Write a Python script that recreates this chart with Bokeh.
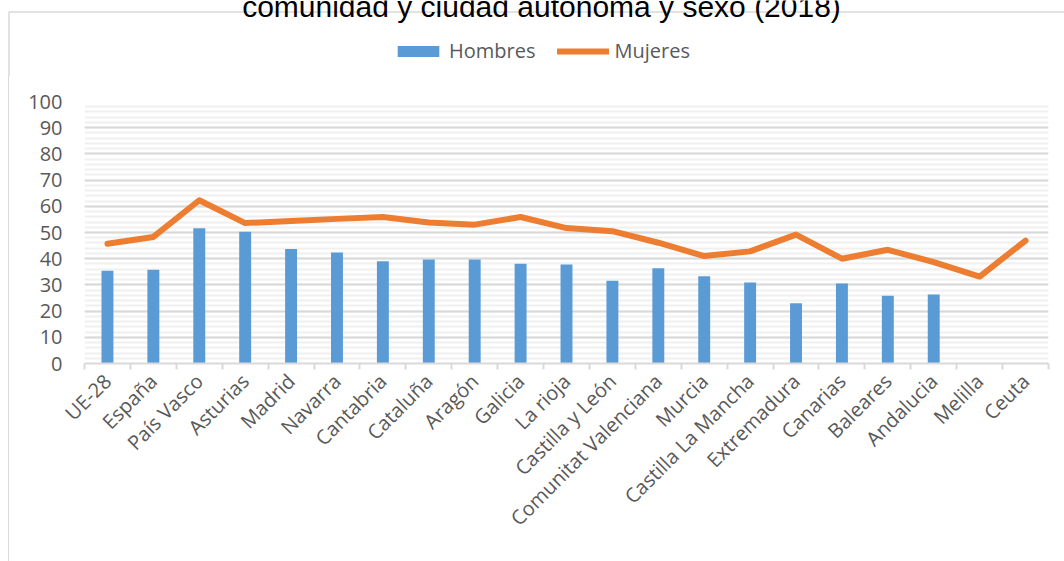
import math
from bokeh.plotting import figure
from bokeh.layouts import column, row
from bokeh.models import (Range1d, FixedTicker, SingleIntervalTicker, Legend, LegendItem,
                          Label, ColumnDataSource, Spacer)
from bokeh.embed import file_html
from bokeh.resources import INLINE

# ---------------- data ----------------
categories = ["UE-28", "España", "País Vasco", "Asturias", "Madrid", "Navarra", "Cantabria",
              "Cataluña", "Aragón", "Galicia", "La rioja", "Castilla y León",
              "Comunitat Valenciana", "Murcia", "Castilla La Mancha", "Extremadura",
              "Canarias", "Baleares", "Andalucia", "Melilla", "Ceuta"]
hombres = [35.4, 35.8, 51.6, 50.3, 43.7, 42.4, 39.0, 39.7, 39.7, 38.1, 37.8, 31.6,
           36.4, 33.3, 30.9, 23.0, 30.5, 25.9, 26.3, float("nan"), float("nan")]
mujeres = [45.7, 48.3, 62.3, 53.6, 54.4, 55.2, 55.9, 53.8, 53.0, 55.9, 51.7, 50.5,
           46.1, 41.0, 42.8, 49.2, 40.0, 43.4, 38.7, 33.2, 46.9]
series_names = ["Hombres", "Mujeres"]
title_text = "comunidad y ciudad autónoma y sexo (2018)"

# ---------------- layout constants (pixels) ----------------
W, H = 1064, 561
HEAD_H = 76           # header strip (title + legend)
PAD_W = 8             # white margin left of the chart border
LINE_W = 1            # chart border thickness
FR_L, FR_R, FR_T, FR_B = 84, 1048, 101, 363   # plot frame in page pixels
n = len(categories)

FONT = "Open Sans"
GRAY = "#595959"
BLUE = "#5B9BD5"
ORANGE = "#ED7D31"
BORDER = "#D9D9D9"

# ---------------- header: title, legend, top border ----------------
head = figure(width=W, height=HEAD_H, output_backend="svg", toolbar_location=None,
              x_axis_type=None, y_axis_type=None,
              x_range=Range1d(0, W), y_range=Range1d(HEAD_H, 0),
              min_border=0, min_border_left=0, min_border_right=0,
              min_border_top=0, min_border_bottom=0)
head.outline_line_color = None
head.background_fill_color = "white"
head.border_fill_color = "white"
head.grid.visible = False

# chart border: top edge and start of left edge
head.line(x=[PAD_W + 0.5, PAD_W + 0.5, W + 5], y=[HEAD_H + 5, 11.5, 11.5],
          line_color=BORDER, line_width=1.5)

# legend swatches (same styles as the chart series), drawn off-canvas
sw_src = ColumnDataSource(dict(x=[-1000, -999], y=[-1000, -1000]))
sw_bar = head.vbar(x="x", top="y", width=1, source=sw_src, fill_color=BLUE, line_color=None)
sw_line = head.line(x="x", y="y", source=sw_src, line_color=ORANGE, line_width=6,
                    line_cap="round")
legend = Legend(items=[LegendItem(label=series_names[0], renderers=[sw_bar]),
                       LegendItem(label=series_names[1], renderers=[sw_line])],
                orientation="horizontal", location=(392, HEAD_H - 64),
                glyph_width=52, glyph_height=14, label_standoff=5, spacing=22,
                padding=0, margin=0, border_line_color=None, background_fill_alpha=0,
                label_text_font=FONT, label_text_font_size="20px",
                label_text_color=GRAY, label_height=20)
head.add_layout(legend, "center")

title = Label(x=541, y=6, text=title_text, text_align="center",
              text_baseline="alphabetic", text_font="Liberation Sans",
              text_font_size="30px", text_color="#000000")
head.add_layout(title)

# ---------------- left border (continuation below the header) ----------------
MAIN_H = H - HEAD_H
pad = Spacer(width=PAD_W, height=MAIN_H, styles={"background-color": "white"})
edge = Spacer(width=LINE_W, height=MAIN_H, styles={"background-color": BORDER})

# ---------------- main chart ----------------
xpos = [i + 0.5 for i in range(n)]
src = ColumnDataSource(dict(x=xpos, cat=categories, h=hombres, m=mujeres))

p = figure(width=W - PAD_W - LINE_W, height=MAIN_H, output_backend="svg",
           toolbar_location=None,
           x_range=Range1d(0, n), y_range=Range1d(0, 100),
           min_border_left=FR_L - PAD_W - LINE_W, min_border_right=W - FR_R,
           min_border_top=FR_T - HEAD_H, min_border_bottom=H - FR_B)
p.background_fill_color = "white"
p.border_fill_color = "white"
p.outline_line_color = None

p.vbar(x="x", top="h", width=0.26, source=src, fill_color=BLUE, line_color=None)
p.line(x="x", y="m", source=src, line_color=ORANGE, line_width=6,
       line_join="round", line_cap="round")

# x axis
xa = p.xaxis[0]
xa.ticker = FixedTicker(ticks=xpos, minor_ticks=list(range(n + 1)))
xa.major_label_overrides = {x: c for x, c in zip(xpos, categories)}
xa.major_label_orientation = math.pi / 4
xa.major_tick_line_color = None
xa.major_tick_out = 0
xa.major_tick_in = 0
xa.minor_tick_out = 6
xa.minor_tick_in = 0
xa.minor_tick_line_color = BORDER
xa.minor_tick_line_width = 2
xa.axis_line_color = BORDER
xa.axis_line_width = 2
xa.major_label_text_font = FONT
xa.major_label_text_font_size = "20px"
xa.major_label_text_color = GRAY
xa.major_label_standoff = 8
p.xgrid.visible = False

# y axis
ya = p.yaxis[0]
ya.ticker = SingleIntervalTicker(interval=10, num_minor_ticks=5)
ya.axis_line_color = None
ya.major_tick_line_color = None
ya.minor_tick_line_color = None
ya.major_label_text_font = FONT
ya.major_label_text_font_size = "20px"
ya.major_label_text_color = GRAY
ya.major_label_standoff = 16
p.ygrid.grid_line_color = BORDER
p.ygrid.grid_line_width = 2
p.ygrid.minor_grid_line_color = "#F0F0F0"
p.ygrid.minor_grid_line_width = 2

layout = column(head, row(pad, edge, p, spacing=0), spacing=0)
open("out.html", "w").write(file_html(layout, INLINE))
